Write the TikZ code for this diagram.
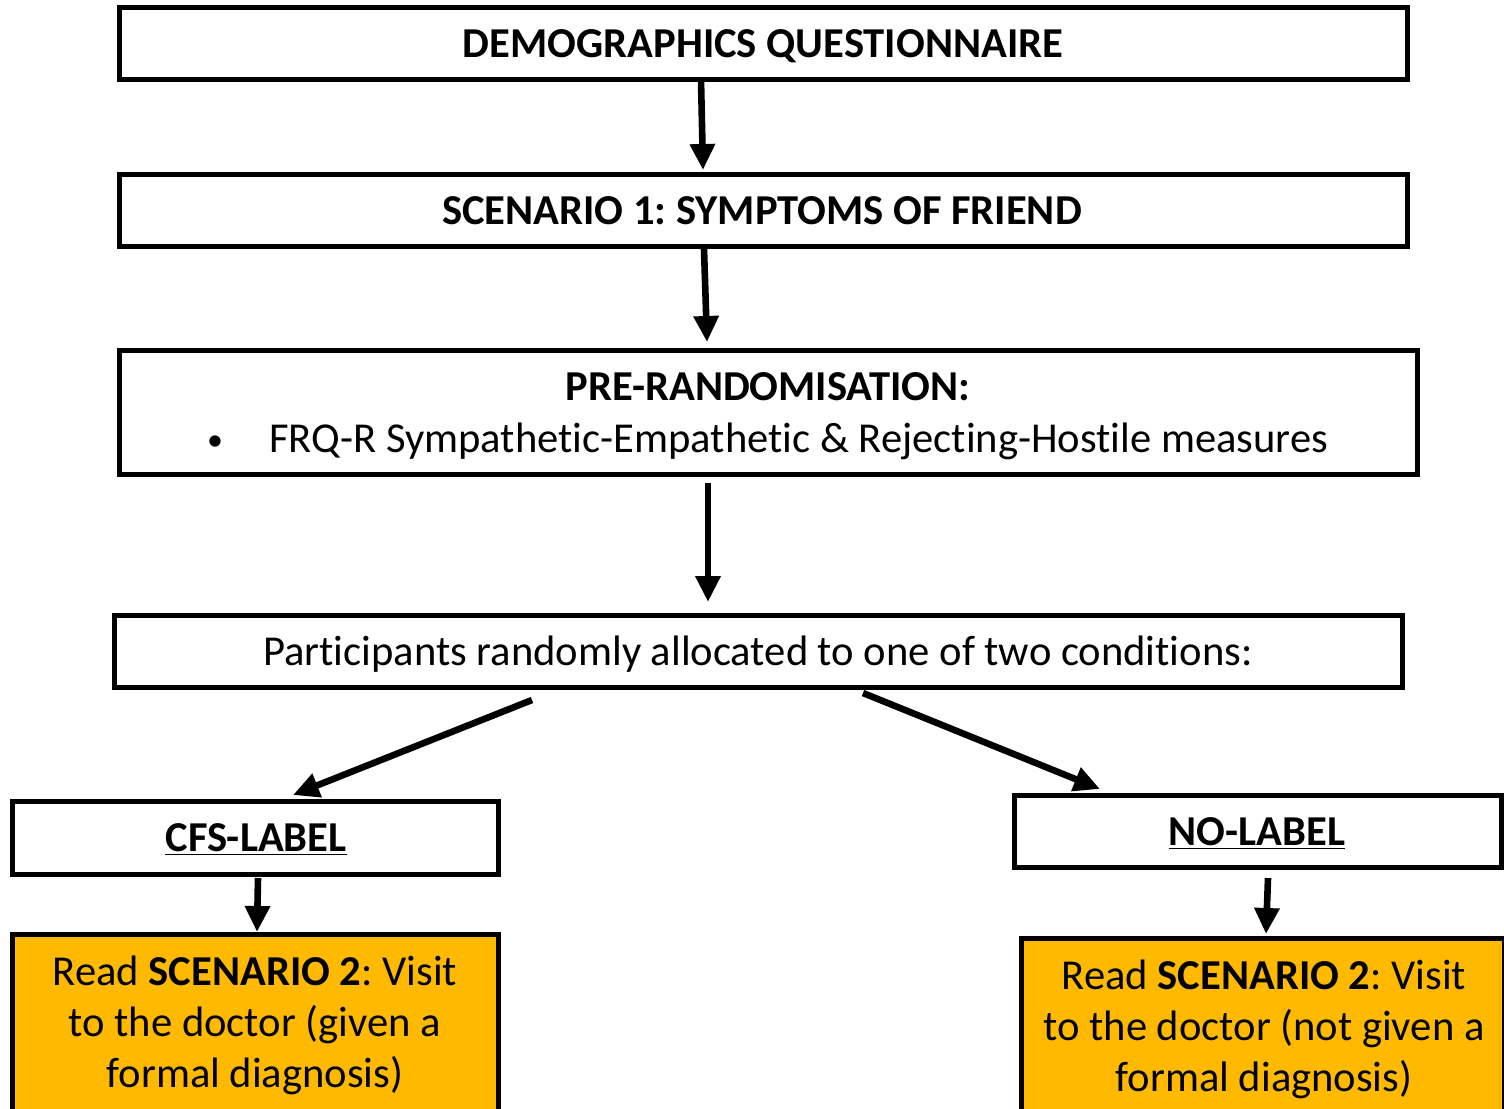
\documentclass[tikz,border=0pt]{standalone}
\usepackage{fontspec}
\setmainfont{Carlito}[Ligatures={NoCommon}]
\usetikzlibrary{arrows.meta}
\definecolor{orng}{HTML}{FFBA00}
\frenchspacing
\begin{document}
\begin{tikzpicture}[x=0.5pt,y=-0.5pt,
  box/.style={draw=black,line width=2.5pt,inner sep=0pt,fill=white},
  obox/.style={box,fill=orng},
  arr/.style={line width=3.3pt,-{Triangle[length=13pt,width=12pt]}},
  txt/.style={font=\fontsize{21.3}{26}\selectfont,inner sep=0pt,anchor=base},
  btxt/.style={txt,font=\fontsize{21.3}{26}\selectfont\bfseries}]
\useasboundingbox (0,0) rectangle (1504,1108);
\clip (0,0) rectangle (1504,1108);
% boxes
\node[box,minimum width=644pt,minimum height=36pt] (demo) at (763,43) {};
\node[box,minimum width=644pt,minimum height=36pt] (scen) at (763,210) {};
\node[box,minimum width=649pt,minimum height=62pt] (pre) at (768,412) {};
\node[box,minimum width=644pt,minimum height=36pt] (part) at (758,651) {};
\node[box,minimum width=243pt,minimum height=36.5pt] (cfs) at (255,837.5) {};
\node[box,minimum width=243.5pt,minimum height=36pt] (nol) at (1257.5,831) {};
\node[obox,minimum width=243pt,minimum height=100pt] (ol) at (255,1034) {};
\node[obox,minimum width=241.5pt,minimum height=100pt] (or) at (1262.5,1038) {};
% texts
\node[btxt] (tdemo) at (763,57) {DEMOGRAPHICS QUESTIONNAIRE};
\node[btxt] (tscen) at (762,224) {SCENARIO 1: SYMPTOMS OF FRIEND};
\node[btxt] (tpre) at (768,400) {PRE-RANDOMISATION:};
\node[txt,font=\fontsize{16}{20}\selectfont] (tbul) at (215,450) {\textbullet};
\node[txt,anchor=base west] (tfrq) at (269,452) {FRQ-R Sympathetic-Empathetic \& Rejecting-Hostile measures};
\node[txt] (tpart) at (758,665) {Participants randomly allocated to one of two conditions:};
\node[btxt] (tcfs) at (256,851) {\underline{CFS-LABEL}};
\node[btxt] (tnol) at (1257,845) {\underline{NO-LABEL}};
\node[txt] (tol1) at (255,985) {Read \textbf{SCENARIO 2}: Visit};
\node[txt] (tol2) at (255,1036) {to the doctor (given a};
\node[txt] (tol3) at (255,1087) {formal diagnosis)};
\node[txt] (tor1) at (1264,989) {Read \textbf{SCENARIO 2}: Visit};
\node[txt] (tor2) at (1264,1040) {to the doctor (not given a};
\node[txt] (tor3) at (1264,1091) {formal diagnosis)};
% arrow end points
\coordinate (a1s) at (701,80);  \coordinate (a1e) at (703,170);
\coordinate (a2s) at (704,249); \coordinate (a2e) at (707,342);
\coordinate (a3s) at (708,483); \coordinate (a3e) at (708,602);
\coordinate (a4s) at (532,700); \coordinate (a4e) at (293,795);
\coordinate (a5s) at (863,693); \coordinate (a5e) at (1100,789);
\coordinate (a6s) at (258,878); \coordinate (a6e) at (257,932);
\coordinate (a7s) at (1268,878); \coordinate (a7e) at (1266,934);
\draw[arr] (a1s) -- (a1e);
\draw[arr] (a2s) -- (a2e);
\draw[arr] (a3s) -- (a3e);
\draw[arr] (a4s) -- (a4e);
\draw[arr] (a5s) -- (a5e);
\draw[arr] (a6s) -- (a6e);
\draw[arr] (a7s) -- (a7e);
\end{tikzpicture}
\end{document}
